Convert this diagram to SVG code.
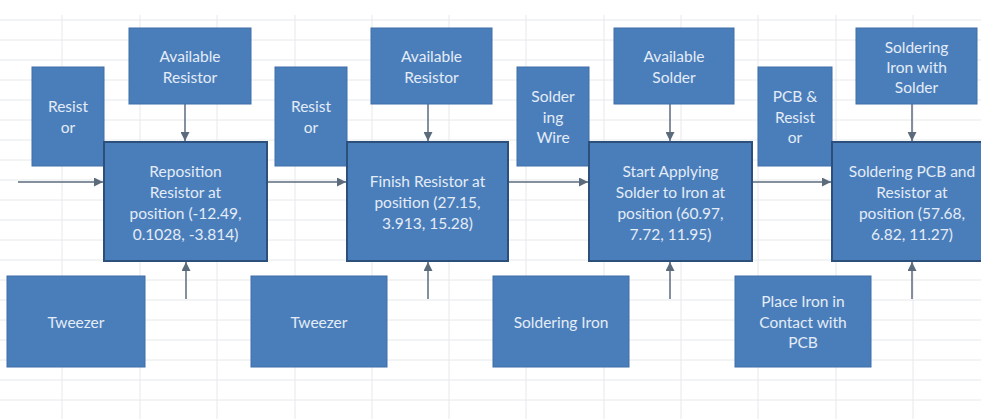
<svg xmlns="http://www.w3.org/2000/svg" width="981" height="419" viewBox="0 0 981 419">
<defs>
<style>
.grid line{stroke:#e6e8eb;stroke-width:1}
.box{fill:#4a7ebb;stroke:#3f6ea8;stroke-width:1}
.main{fill:#4a7ebb;stroke:#2c4f7c;stroke-width:2}
text{font-family:Lato,"Open Sans","DejaVu Sans",sans-serif;font-size:15.5px;fill:#e4ecf6;text-anchor:middle}
.conn line{stroke:#5b6b7c;stroke-width:1.5;marker-end:url(#ah)}
</style>
<marker id="ah" viewBox="0 0 10 10" refX="10" refY="5" markerWidth="6" markerHeight="6" markerUnits="strokeWidth" orient="auto">
<path d="M0,0 L10,5 L0,10 z" fill="#5b6b7c"/>
</marker>
</defs>
<rect width="981" height="419" fill="#ffffff"/>
<g class="grid">
<line x1="0" y1="20" x2="981" y2="20"/><line x1="0" y1="40" x2="981" y2="40"/><line x1="0" y1="60" x2="981" y2="60"/><line x1="0" y1="80" x2="981" y2="80"/><line x1="0" y1="100" x2="981" y2="100"/><line x1="0" y1="120" x2="981" y2="120"/><line x1="0" y1="140" x2="981" y2="140"/><line x1="0" y1="160" x2="981" y2="160"/><line x1="0" y1="180" x2="981" y2="180"/><line x1="0" y1="200" x2="981" y2="200"/><line x1="0" y1="220" x2="981" y2="220"/><line x1="0" y1="240" x2="981" y2="240"/><line x1="0" y1="260" x2="981" y2="260"/><line x1="0" y1="280" x2="981" y2="280"/><line x1="0" y1="300" x2="981" y2="300"/><line x1="0" y1="320" x2="981" y2="320"/><line x1="0" y1="340" x2="981" y2="340"/><line x1="0" y1="360" x2="981" y2="360"/><line x1="0" y1="380" x2="981" y2="380"/><line x1="0" y1="400" x2="981" y2="400"/>
<line x1="62" y1="15" x2="62" y2="419"/><line x1="140" y1="15" x2="140" y2="419"/><line x1="217" y1="15" x2="217" y2="419"/><line x1="295" y1="15" x2="295" y2="419"/><line x1="372" y1="15" x2="372" y2="419"/><line x1="449" y1="15" x2="449" y2="419"/><line x1="526" y1="15" x2="526" y2="419"/><line x1="604" y1="15" x2="604" y2="419"/><line x1="681" y1="15" x2="681" y2="419"/><line x1="758" y1="15" x2="758" y2="419"/><line x1="836" y1="15" x2="836" y2="419"/><line x1="913" y1="15" x2="913" y2="419"/>
</g>
<g class="conn">
<line x1="18" y1="182" x2="103" y2="182"/>
<line x1="267" y1="182" x2="346" y2="182"/>
<line x1="508" y1="182" x2="588" y2="182"/>
<line x1="752" y1="182" x2="831" y2="182"/>
<line x1="185" y1="104" x2="185" y2="141"/>
<line x1="428" y1="104" x2="428" y2="141"/>
<line x1="670" y1="104" x2="670" y2="141"/>
<line x1="912" y1="104" x2="912" y2="141"/>
<line x1="186" y1="299" x2="186" y2="262"/>
<line x1="428" y1="299" x2="428" y2="262"/>
<line x1="670" y1="299" x2="670" y2="262"/>
<line x1="912" y1="299" x2="912" y2="262"/>
</g>
<g id="resistor1"><rect class="box" x="32" y="67" width="72" height="99"/><text x="68" y="112">Resist</text><text x="68" y="133">or</text></g>
<g id="avail-resistor1"><rect class="box" x="129" y="28" width="122" height="76"/><text x="190" y="62">Available</text><text x="190" y="83">Resistor</text></g>
<g id="tweezer1"><rect class="box" x="7" y="276" width="138" height="91"/><text x="76" y="328">Tweezer</text></g>
<g id="reposition"><rect class="main" x="104" y="142" width="163" height="119"/><text x="185.5" y="177">Reposition</text><text x="185.5" y="198">Resistor at</text><text x="185.5" y="219">position (-12.49,</text><text x="185.5" y="240">0.1028, -3.814)</text></g>
<g id="resistor2"><rect class="box" x="275" y="67" width="72" height="99"/><text x="311" y="112">Resist</text><text x="311" y="133">or</text></g>
<g id="avail-resistor2"><rect class="box" x="371" y="28" width="121" height="76"/><text x="431.5" y="62">Available</text><text x="431.5" y="83">Resistor</text></g>
<g id="tweezer2"><rect class="box" x="251" y="276" width="136" height="91"/><text x="319" y="328">Tweezer</text></g>
<g id="finish"><rect class="main" x="347" y="142" width="161" height="119"/><text x="427.5" y="187">Finish Resistor at</text><text x="427.5" y="208">position (27.15,</text><text x="427.5" y="229">3.913, 15.28)</text></g>
<g id="soldering-wire"><rect class="box" x="517" y="67" width="72" height="99"/><text x="553" y="102">Solder</text><text x="553" y="123">ing</text><text x="553" y="143">Wire</text></g>
<g id="avail-solder"><rect class="box" x="614" y="28" width="120" height="76"/><text x="674" y="62">Available</text><text x="674" y="83">Solder</text></g>
<g id="soldering-iron"><rect class="box" x="493" y="276" width="136" height="91"/><text x="561" y="328">Soldering Iron</text></g>
<g id="start-applying"><rect class="main" x="589" y="142" width="163" height="119"/><text x="670.5" y="177">Start Applying</text><text x="670.5" y="198">Solder to Iron at</text><text x="670.5" y="219">position (60.97,</text><text x="670.5" y="240">7.72, 11.95)</text></g>
<g id="pcb-resistor"><rect class="box" x="758" y="67" width="74" height="99"/><text x="795" y="102">PCB &amp;</text><text x="795" y="123">Resist</text><text x="795" y="143">or</text></g>
<g id="iron-with-solder"><rect class="box" x="856" y="28" width="121" height="76"/><text x="916.5" y="53">Soldering</text><text x="916.5" y="73">Iron with</text><text x="916.5" y="93">Solder</text></g>
<g id="place-iron"><rect class="box" x="735" y="276" width="136" height="91"/><text x="803" y="307">Place Iron in</text><text x="803" y="328">Contact with</text><text x="803" y="348">PCB</text></g>
<g id="soldering-pcb"><rect class="main" x="832" y="142" width="162" height="119"/><text x="912" y="177">Soldering PCB and</text><text x="912" y="198">Resistor at</text><text x="912" y="219">position (57.68,</text><text x="912" y="240">6.82, 11.27)</text></g>
</svg>
